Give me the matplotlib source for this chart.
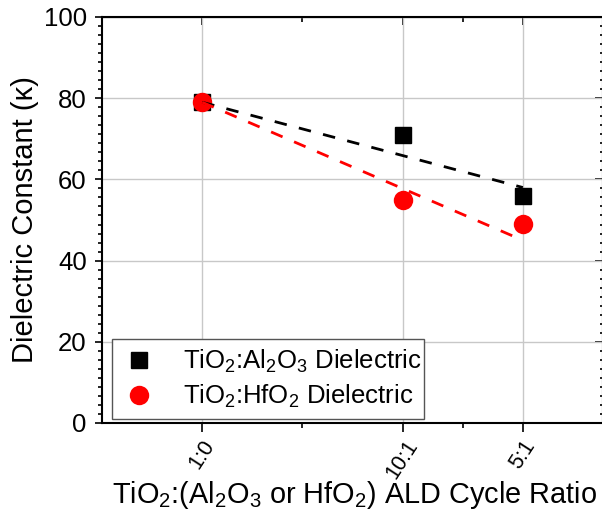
import numpy as np
import matplotlib.pyplot as plt
from matplotlib.ticker import FixedLocator, MultipleLocator, AutoMinorLocator
from matplotlib.lines import Line2D

plt.rcParams['font.family'] = ['Liberation Sans', 'DejaVu Sans']
plt.rcParams['mathtext.fontset'] = 'custom'
plt.rcParams['mathtext.rm'] = 'Liberation Sans'
plt.rcParams['mathtext.it'] = 'Liberation Sans'
plt.rcParams['mathtext.default'] = 'regular'

# cycle ratios and their positions on the x axis
ratio_labels = ["1:0", "10:1", "5:1"]
ratio_pos = [1.0, 2.0, 2.6]

# dielectric constants
k_al2o3 = [79, 71, 56]
k_hfo2 = [79, 55, 49]

# dashed trend lines (start / end values)
trend_x = [1.0, 2.6]
trend_al2o3 = [79, 58]
trend_hfo2 = [79, 45]

fig = plt.figure(figsize=(6.02, 5.18), dpi=100)
ax = fig.add_axes([102 / 602, 1 - 423 / 518, 501 / 602, 406 / 518])

ax.grid(True, color="#c8c8c8", linewidth=1.0, zorder=0)
ax.set_axisbelow(True)

ax.plot(ratio_pos, k_al2o3, linestyle="none", marker="s", markersize=12,
        color="black", zorder=3)
ax.plot(ratio_pos, k_hfo2, linestyle="none", marker="o", markersize=14,
        color="red", markeredgewidth=0, zorder=4)
ax.plot(trend_x, trend_al2o3, color="black", linewidth=2, dashes=(4.5, 4.5), zorder=5)
ax.plot(trend_x, trend_hfo2, color="red", linewidth=2, dashes=(4.5, 4.5), zorder=5)

ax.set_xlim(0.5, 3.0)
ax.set_ylim(0, 100)

ax.xaxis.set_major_locator(FixedLocator(ratio_pos))
ax.xaxis.set_minor_locator(FixedLocator([1.5, 2.3]))
ax.set_xticklabels(ratio_labels, rotation=57)
ax.yaxis.set_major_locator(MultipleLocator(20))
ax.yaxis.set_minor_locator(AutoMinorLocator(9))

ax.tick_params(which="both", direction="out", width=1.2)
ax.tick_params(axis="y", which="major", length=5, labelsize=18.5, pad=6)
ax.tick_params(axis="y", which="minor", length=3)
ax.tick_params(axis="x", which="major", length=6.5, labelsize=15.5, pad=3)
ax.tick_params(axis="x", which="minor", length=3.5)

# mirrored ticks on the top and right point inwards
top = ax.secondary_xaxis("top")
top.xaxis.set_major_locator(FixedLocator(ratio_pos))
top.xaxis.set_minor_locator(FixedLocator([1.5, 2.3]))
top.tick_params(which="both", direction="in", labeltop=False, width=1.2)
top.tick_params(which="major", length=6)
top.tick_params(which="minor", length=3.5)

right = ax.secondary_yaxis("right")
right.yaxis.set_major_locator(MultipleLocator(20))
right.yaxis.set_minor_locator(AutoMinorLocator(9))
right.tick_params(which="both", direction="in", labelright=False, width=1.2)
right.tick_params(which="major", length=6)
right.tick_params(which="minor", length=2)

for sp in ax.spines.values():
    sp.set_linewidth(1.5)

ax.set_ylabel("Dielectric Constant (\u03ba)", fontsize=21, labelpad=3)
ax.set_xlabel(r"TiO$_2$:(Al$_2$O$_3$ or HfO$_2$) ALD Cycle Ratio", fontsize=20.8)
ax.xaxis.set_label_coords(0.504, -0.139)

handles = [
    Line2D([], [], linestyle="none", marker="s", markersize=12, color="black"),
    Line2D([], [], linestyle="none", marker="o", markersize=14, color="red",
           markeredgewidth=0),
]
labels = [r"TiO$_2$:Al$_2$O$_3$ Dielectric", r"TiO$_2$:HfO$_2$ Dielectric"]
leg = ax.legend(handles, labels, loc="lower left",
                bbox_to_anchor=(10 / 501, 4 / 406, 312 / 501, 81 / 406), mode="expand",
                borderaxespad=0, fontsize=18.5, fancybox=False, edgecolor="#555555",
                framealpha=1, handletextpad=1.0, labelspacing=0.3, borderpad=0.35,
                handlelength=1.4)
leg.get_frame().set_linewidth(1.0)

fig.savefig("out.png", dpi=100)
